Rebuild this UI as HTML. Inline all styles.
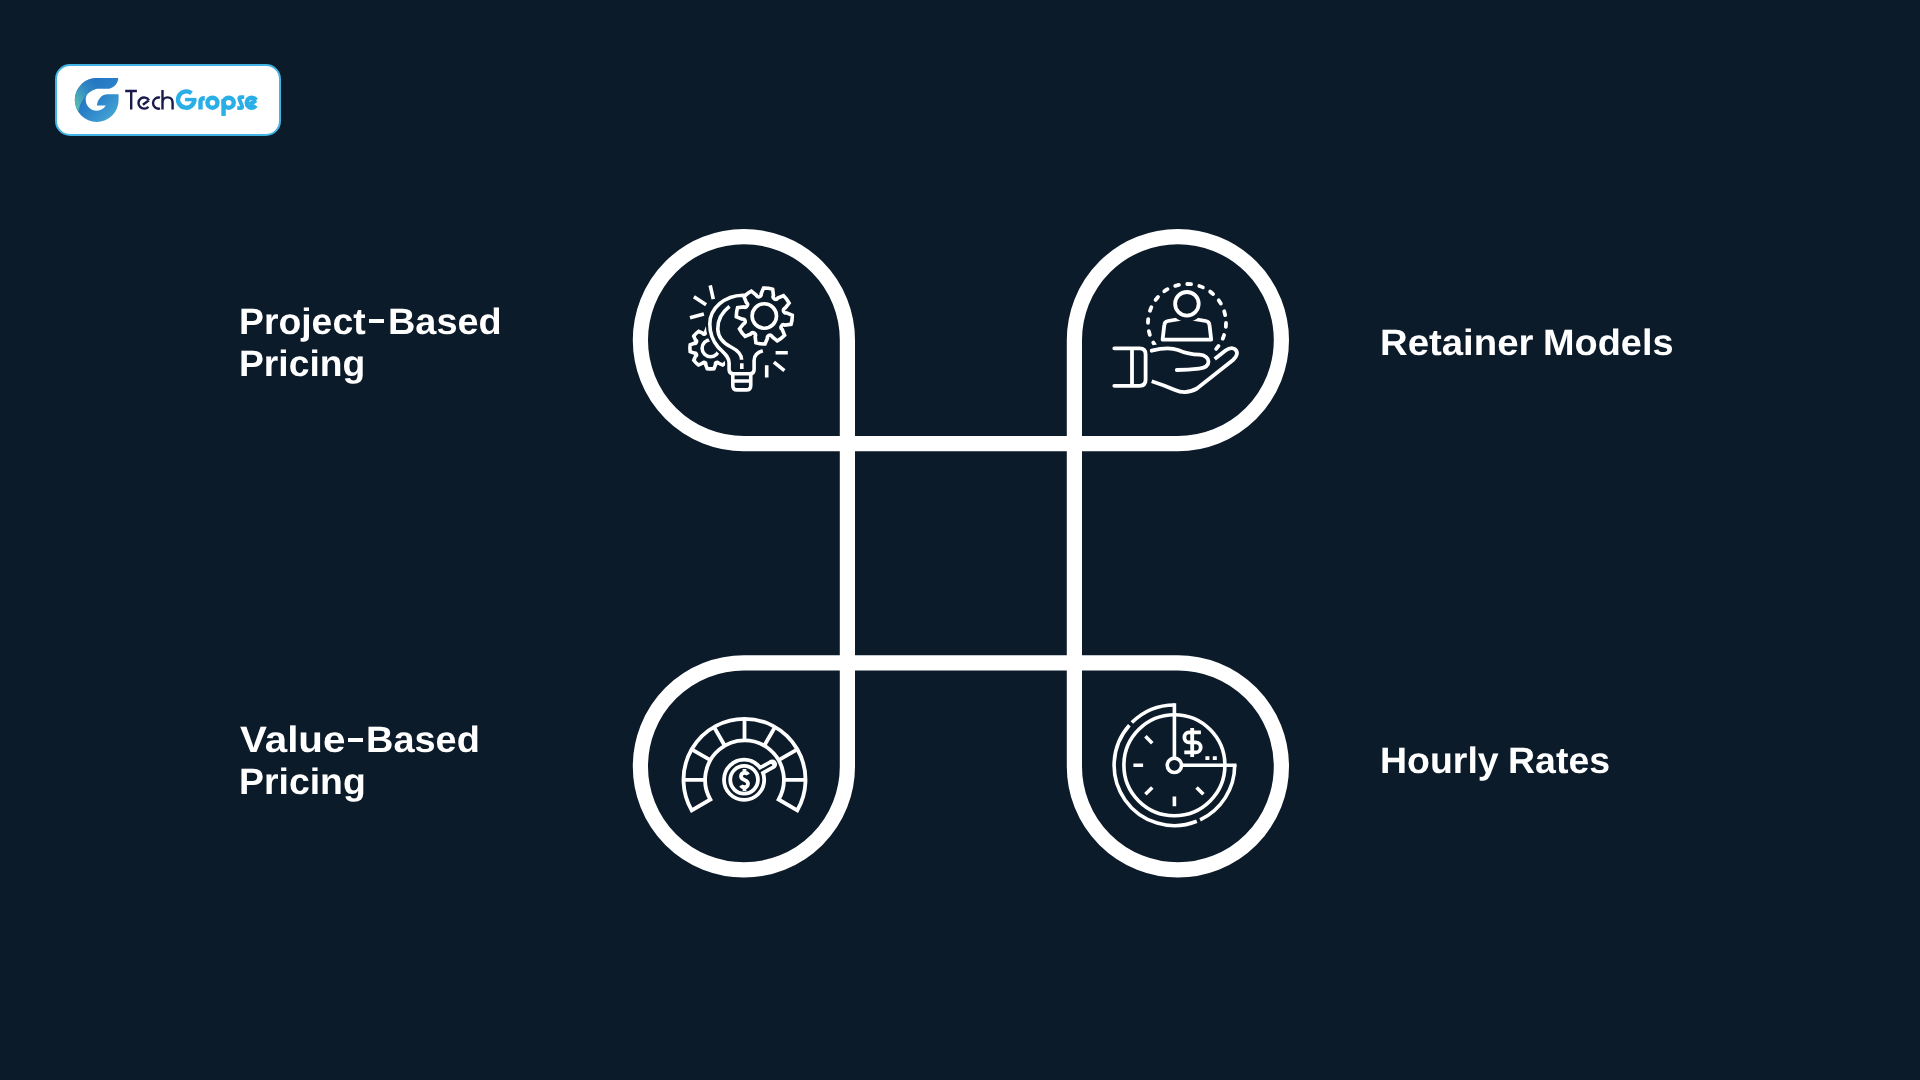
<!DOCTYPE html>
<html><head><meta charset="utf-8">
<style>
html,body{margin:0;padding:0;}
body{width:1920px;height:1080px;background:#0c1b29;position:relative;overflow:hidden;font-family:"Liberation Sans",sans-serif;}
.t{position:absolute;color:#fff;font-weight:bold;font-size:36.75px;line-height:42px;height:42px;white-space:nowrap;transform-origin:0 0;-webkit-font-smoothing:antialiased;text-rendering:geometricPrecision;will-change:transform;}
#logo{position:absolute;left:55px;top:64px;width:222px;height:68px;background:#fff;border:2px solid #43b3e3;border-radius:15px;}
svg{position:absolute;left:0;top:0;}
.h{position:absolute;height:4px;background:#fff;}
</style></head>
<body>
<div id="logo"></div>
<svg width="1920" height="1080" viewBox="0 0 1920 1080">
 <defs>
  <linearGradient id="lg1" x1="0" y1="0" x2="1" y2="1">
   <stop offset="0" stop-color="#1f6cbd"/><stop offset="0.5" stop-color="#2a80c8"/><stop offset="1" stop-color="#4db0d9"/>
  </linearGradient>
  <linearGradient id="lg2" x1="0.9" y1="0" x2="0.1" y2="1">
   <stop offset="0" stop-color="#2474c0"/><stop offset="0.4" stop-color="#3189c3"/><stop offset="1" stop-color="#5cc3b0"/>
  </linearGradient>
 </defs>
 <!-- logo G -->
 <path fill="url(#lg1)" d="M96.7 77.9 L118.3 77.9 C118 84 113 88.8 107 88.8 L96.7 88.8 A11 11 0 0 0 96.7 110.8 A11 11 0 0 0 105.8 105.6 L96.9 105.6 C97.5 99 102 94.2 107.8 94.2 L118.6 94.2 L118.6 100 A21.9 21.9 0 0 1 96.7 121.9 A21.9 21.9 0 0 1 74.8 100 A21.9 21.9 0 0 1 96.7 78.1 Z"/>
 <path fill="url(#lg2)" d="M96.7 77.9 A21.9 21.9 0 0 0 78.3 111.4 C80 102 86 92 96.7 88.8 Z"/>
 <!-- logo text -->
 <g fill="none" stroke="#1b1a4c" stroke-width="2.4">
  <path d="M125.2 91 H136.9 M131.2 91 V109.6"/>
  <path d="M148.95 100.25 A5.6 5.6 0 1 0 148.39 106.65 M142.9 104.8 L148.95 100.25"/>
  <path d="M160.05 97.64 A5.6 5.6 0 1 0 160.05 108.46"/>
  <path d="M162.5 90 V109.6 M162.5 103 C162.5 99.5 164.8 97.4 167.5 97.4 C170.5 97.4 172.6 99.5 172.6 103 V109.6"/>
 </g>
 <g fill="none" stroke="#29aee6" stroke-width="4.4">
  <path d="M191.44 93.31 A8.15 8.15 0 1 0 194.35 99.55 V100"/>
  <path stroke="none" fill="#29aee6" d="M185.1 97.9 H196.4 V101.3 H185.1 Z"/>
  <path d="M200.5 109.6 V101.5 C200.5 99 201.8 98.2 204.8 98.2"/>
  <circle cx="212.45" cy="102.7" r="5"/>
  <path d="M223.55 99 V115.9"/>
  <circle cx="228.7" cy="102.7" r="5"/>
  <path stroke-width="3.8" d="M244.2 97.2 H241 Q238.6 97.2 239.5 99.5 L242 105.8 Q242.8 108.2 240.4 108.2 H237.3"/>
  <path d="M256.03 100.2 A5 5 0 1 0 255.8 105.57 M249.8 104.4 L256.03 100.2"/>
 </g>
 <!-- frame -->
 <path fill="none" stroke="#fff" stroke-width="15.2" stroke-linejoin="miter" d="M847.4 340.1 A103.5 103.5 0 0 0 743.9 236.6 A103.5 103.5 0 0 0 640.4 340.1 A103.5 103.5 0 0 0 743.9 443.6 L1177.9 443.6 A103.5 103.5 0 0 0 1281.4 340.1 A103.5 103.5 0 0 0 1177.9 236.6 A103.5 103.5 0 0 0 1074.4 340.1 L1074.4 766.4 A103.5 103.5 0 0 0 1177.9 869.9 A103.5 103.5 0 0 0 1281.4 766.4 A103.5 103.5 0 0 0 1177.9 662.9 L743.9 662.9 A103.5 103.5 0 0 0 640.4 766.4 A103.5 103.5 0 0 0 743.9 869.9 A103.5 103.5 0 0 0 847.4 766.4 Z"/>
 <!-- icon1 bulb -->
 <g fill="none" stroke="#fff" stroke-width="3.6">
  <path d="M726.85 343.20 L731.02 344.80 A20.70 20.70 0 0 1 731.02 351.60 L726.85 353.20 A1.60 1.60 0 0 0 725.62 356.15 L727.44 360.23 A20.70 20.70 0 0 1 722.63 365.04 L718.55 363.22 A1.60 1.60 0 0 0 715.60 364.45 L714.00 368.62 A20.70 20.70 0 0 1 707.20 368.62 L705.60 364.45 A1.60 1.60 0 0 0 702.65 363.22 L698.57 365.04 A20.70 20.70 0 0 1 693.76 360.23 L695.58 356.15 A1.60 1.60 0 0 0 694.35 353.20 L690.18 351.60 A20.70 20.70 0 0 1 690.18 344.80 L694.35 343.20 A1.60 1.60 0 0 0 695.58 340.25 L693.76 336.17 A20.70 20.70 0 0 1 698.57 331.36 L702.65 333.18 A1.60 1.60 0 0 0 705.60 331.95 L707.20 327.78 A20.70 20.70 0 0 1 714.00 327.78 L715.60 331.95 A1.60 1.60 0 0 0 718.55 333.18 L722.63 331.36 A20.70 20.70 0 0 1 727.44 336.17 L725.62 340.25 A1.60 1.60 0 0 0 726.85 343.20 Z"/>
  <circle cx="710.6" cy="348.2" r="8.5"/>
  <path fill="#0c1b29" stroke="#0c1b29" stroke-width="8" d="M742.8 295.2 C725 295.5 709.8 308 709.8 324 C709.8 334 713 341 718 347 C723 352.5 729.1 356 729.1 363 V369.5 Q729.1 373.75 733.3 373.75 H750 Q754.1 373.75 754.1 369.5 V360.4 C754.1 355 757 352.5 762.8 350.8 L770 330 Z"/>
  <path d="M748 295.4 L742.8 295.2 C725 295.5 709.8 308 709.8 324 C709.8 334 713 341 718 347 C723 352.5 729.1 356 729.1 363 V369.5 Q729.1 373.75 733.3 373.75 H750 Q754.1 373.75 754.1 369.5 V360.4 C754.1 355 757 352.5 762.8 350.8"/>
  <path d="M732.8 373.75 V385.4 Q732.8 389.9 737.3 389.9 H746.3 Q750.75 389.9 750.75 385.4 V373.75 M732.8 381 H750.75"/>
  <path d="M729.5 306.4 C721 313 717.5 321 717.8 329 C718 338 724 343.5 731 347 C738 350.5 741.6 354 741.6 359.8 M741.8 363.3 V369"/>
  <path fill="#0c1b29" stroke="none" d="M786.58 312.87 L792.29 315.29 A28.00 28.00 0 0 1 791.01 324.40 L784.86 325.15 A2.55 2.55 0 0 0 782.27 329.54 L784.60 335.29 A28.00 28.00 0 0 1 777.25 340.83 L772.37 337.00 A2.55 2.55 0 0 0 767.43 338.28 L765.01 343.99 A28.00 28.00 0 0 1 755.90 342.71 L755.15 336.56 A2.55 2.55 0 0 0 750.76 333.97 L745.01 336.30 A28.00 28.00 0 0 1 739.47 328.95 L743.30 324.07 A2.55 2.55 0 0 0 742.02 319.13 L736.31 316.71 A28.00 28.00 0 0 1 737.59 307.60 L743.74 306.85 A2.55 2.55 0 0 0 746.33 302.46 L744.00 296.71 A28.00 28.00 0 0 1 751.35 291.17 L756.23 295.00 A2.55 2.55 0 0 0 761.17 293.72 L763.59 288.01 A28.00 28.00 0 0 1 772.70 289.29 L773.45 295.44 A2.55 2.55 0 0 0 777.84 298.03 L783.59 295.70 A28.00 28.00 0 0 1 789.13 303.05 L785.30 307.93 A2.55 2.55 0 0 0 786.58 312.87 Z"/>
  <path d="M786.58 312.87 L792.29 315.29 A28.00 28.00 0 0 1 791.01 324.40 L784.86 325.15 A2.55 2.55 0 0 0 782.27 329.54 L784.60 335.29 A28.00 28.00 0 0 1 777.25 340.83 L772.37 337.00 A2.55 2.55 0 0 0 767.43 338.28 L765.01 343.99 A28.00 28.00 0 0 1 755.90 342.71 L755.15 336.56 A2.55 2.55 0 0 0 750.76 333.97 L745.01 336.30 A28.00 28.00 0 0 1 739.47 328.95 L743.30 324.07 A2.55 2.55 0 0 0 742.02 319.13 L736.31 316.71 A28.00 28.00 0 0 1 737.59 307.60 L743.74 306.85 A2.55 2.55 0 0 0 746.33 302.46 L744.00 296.71 A28.00 28.00 0 0 1 751.35 291.17 L756.23 295.00 A2.55 2.55 0 0 0 761.17 293.72 L763.59 288.01 A28.00 28.00 0 0 1 772.70 289.29 L773.45 295.44 A2.55 2.55 0 0 0 777.84 298.03 L783.59 295.70 A28.00 28.00 0 0 1 789.13 303.05 L785.30 307.93 A2.55 2.55 0 0 0 786.58 312.87 Z"/>
  <circle cx="764.3" cy="316" r="12.2"/>
  <path d="M693.9 296.7 L706.1 304.7 M710.2 285.3 L713.3 299.1 M690 317.8 L703.9 313.9 M775.6 352.8 H787.8 M773.9 362.2 L784.4 370.6 M766.7 365.3 V377.5"/>
 </g>
 <!-- icon2 person hand -->
 <g fill="none" stroke="#fff" stroke-width="3.8">
  <circle cx="1187" cy="323" r="39" stroke-dasharray="3.85 8.4" stroke-linecap="round"/>
  <path stroke-linejoin="round" d="M1182 318.6 L1168 321 Q1164.6 321.6 1164.3 325 L1162.6 339.6 H1211.2 L1209.5 325 Q1209.2 321.6 1205.8 321 L1191.8 318.6"/>
  <circle cx="1186.9" cy="303.8" r="15.7" stroke="#0c1b29" stroke-width="4.4"/>
  <circle cx="1186.9" cy="303.8" r="11.8"/>
  <path fill="#0c1b29" stroke="#0c1b29" stroke-width="10" stroke-linejoin="round" d="M1151.7 350.7 C1160 348.5 1170 347 1178 350 C1185 353 1190 354.5 1199.5 354.7 L1209 351.5 L1214.7 359.1 L1225.5 350.5 C1229 348 1232 347 1235 349.2 C1238.5 352 1237 356.5 1233 360 L1197 388.5 C1190 392.5 1182 393 1175 390 C1168 387 1160 384 1151.7 381.3 Z"/>
  <path stroke-linecap="round" d="M1114.3 348.3 H1139.6 Q1145.6 348.3 1145.6 354.3 V379.8 Q1145.6 385.8 1139.6 385.8 H1114.3 M1132 348.3 V385.8"/>
  <path stroke-linecap="round" d="M1151.7 350.7 C1160 348.5 1170 347 1178 350 C1185 353 1190 354.5 1199.5 354.7 C1205 355 1208.5 358 1208.5 361.5 C1208.5 366 1204 368 1199 368.6 C1192 369.5 1183 370 1176.8 370"/>
  <path d="M1151.7 381.3 C1160 384 1168 387 1175 390 C1182 393 1190 392.5 1197 388.5 L1233 360 C1237 356.5 1238.5 352 1235 349.2 C1232 347 1229 348 1225.5 350.5 L1214.7 359.1"/>
 </g>
 <!-- icon3 gauge -->
 <g fill="none" stroke="#fff" stroke-width="3.8">
  <path d="M691.67 810.30 A61.0 61.0 0 1 1 797.33 810.30 L778.62 799.50 A39.4 39.4 0 1 0 710.38 799.50 Z"/>
  <path d="M705.10 779.80 L683.50 779.80 M710.38 760.10 L691.67 749.30 M724.80 745.68 L714.00 726.97 M744.50 740.40 L744.50 718.80 M764.20 745.68 L775.00 726.97 M778.62 760.10 L797.33 749.30 M783.90 779.80 L805.50 779.80"/>
  
  
  <circle cx="744.1" cy="779.8" r="20.1"/>
  <circle cx="744.1" cy="779.8" r="13.85"/>
  <path stroke-width="9.6" d="M761.65 770.21 L772.27 764.41"/><circle cx="772.27" cy="764.41" r="4.8" fill="#fff" stroke="none"/>
  <path stroke="#0c1b29" stroke-width="2.3" stroke-linecap="round" d="M759.2 771.55 L771.04 765.08"/>
  <path stroke-width="3.8" d="M748 774.6 C747.5 773.5 746.2 772.75 744.5 772.75 C742.5 772.75 741 774.2 741 776.2 C741 778.2 742.5 779.3 744.5 780 C746.5 780.7 748 781.8 748 783.8 C748 785.8 746.5 787.25 744.5 787.25 C742.8 787.25 741.5 786.5 741 785.4 M744.5 769 V772.75 M744.5 787.25 V791"/>
 </g>
 <!-- icon4 clock -->
 <g fill="none" stroke="#fff" stroke-width="3.6">
  <circle cx="1174.4" cy="765.3" r="50.5"/>
  <circle cx="1174.4" cy="765.3" r="7.15"/>
  <path d="M1174.4 703.2 V758.15 M1181.55 765.3 H1236.5"/>
  <path d="M1174.4 705.0 A60.3 60.3 0 0 0 1131.84 722.59 M1129.38 725.19 A60.3 60.3 0 0 0 1196.79 821.29 M1200.07 819.86 A60.3 60.3 0 0 0 1234.70 765.30"/>
  <path d="M1196.53 787.43 L1203.39 794.29 M1174.40 796.60 L1174.40 806.30 M1152.27 787.43 L1145.41 794.29 M1143.10 765.30 L1133.40 765.30 M1152.27 743.17 L1145.41 736.31"/>
  <path stroke-width="3.8" d="M1200.9 732.4 H1189 C1186.4 732.4 1184.4 734.6 1184.4 737.4 C1184.4 740.2 1186.4 742.4 1189 742.4 H1195.7 C1198.5 742.4 1200.7 744.6 1200.7 747.4 C1200.7 750.2 1198.5 752.4 1195.7 752.4 H1184.3 M1192.2 728.1 V757"/>
  <path stroke="none" fill="#fff" d="M1205.4 756.3 h4 v3.8 h-4 Z M1212.8 756.3 h4 v3.8 h-4 Z"/>
 </g>
</svg>
<div class="t" style="left:239.2px;top:301.4px;transform:scaleX(1.0160)">Project</div>
<div class="t" style="left:387.7px;top:301.4px;transform:scaleX(1.0310)">Based</div>
<div class="t" style="left:239.2px;top:343.4px;transform:scaleX(1.0140)">Pricing</div>
<div class="t" style="left:1380.1px;top:322.2px;transform:scaleX(1.0430)">Retainer</div>
<div class="t" style="left:1542.9px;top:322.2px;transform:scaleX(1.0310)">Models</div>
<div class="t" style="left:239.9px;top:719.4px;transform:scaleX(1.0980)">Value</div>
<div class="t" style="left:365.9px;top:719.4px;transform:scaleX(1.0320)">Based</div>
<div class="t" style="left:239.1px;top:761.4px;transform:scaleX(1.0180)">Pricing</div>
<div class="t" style="left:1380.2px;top:740.2px;transform:scaleX(1.0200)">Hourly</div>
<div class="t" style="left:1508.2px;top:740.2px;transform:scaleX(1.0200)">Rates</div>
<div class="h" style="left:369.1px;top:319.1px;width:15.2px"></div>
<div class="h" style="left:347.7px;top:737.5px;width:15.3px"></div>
</body></html>
